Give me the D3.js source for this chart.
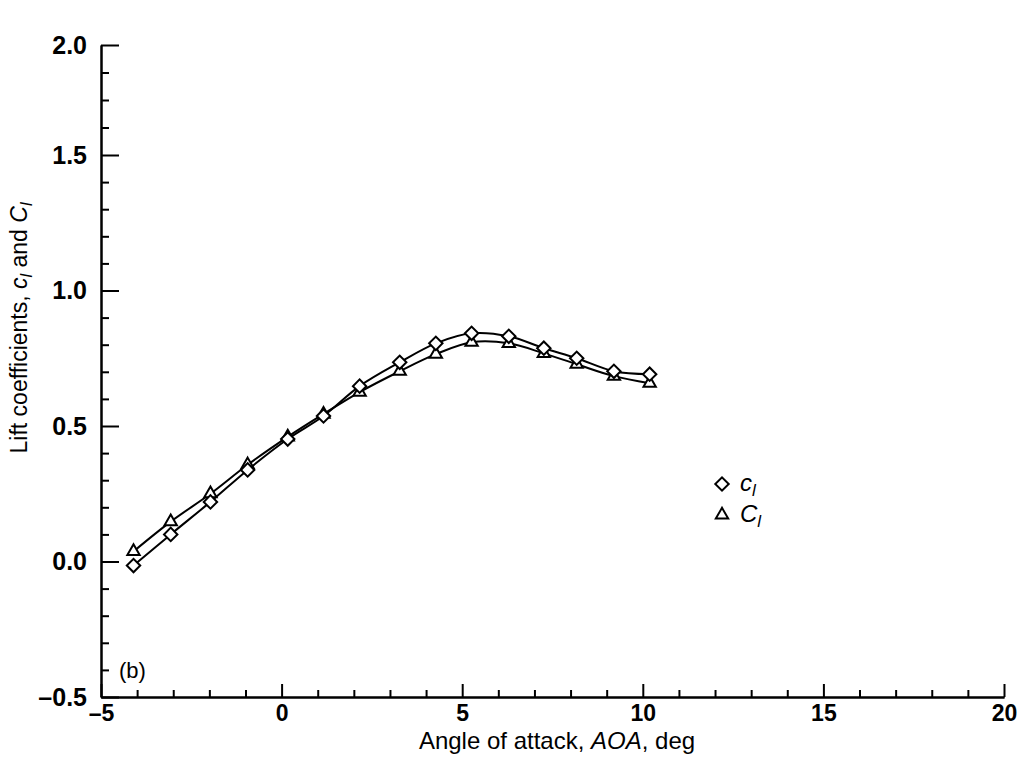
<!DOCTYPE html>
<html><head><meta charset="utf-8">
<script src="https://cdn.jsdelivr.net/npm/d3@7/dist/d3.min.js"></script>
<style>
body{margin:0;background:#fff;}
svg{display:block;}
text{font-family:"Liberation Sans",Arial,Helvetica,sans-serif;fill:#000;}
</style></head>
<body><svg id="c" width="1024" height="757"></svg>
<script>
const aoa = [-4.1, -3.07, -1.97, -0.94, 0.17, 1.16, 2.16, 3.27, 4.27, 5.26, 6.29, 7.26, 8.17, 9.2, 10.19];
const clSection = [-0.015, 0.10, 0.22, 0.338, 0.452, 0.537, 0.647, 0.735, 0.805, 0.842, 0.831, 0.787, 0.75, 0.702, 0.691];
const clWing = [0.037, 0.147, 0.25, 0.357, 0.46, 0.544, 0.625, 0.702, 0.765, 0.809, 0.805, 0.768, 0.728, 0.684, 0.658];
const xMajor = [-5, 0, 5, 10, 15, 20];
const xMinor = d3.range(-4, 20, 1).filter(v => v % 5 !== 0);
const yMajor = [-0.5, 0, 0.5, 1.0, 1.5, 2.0];
const yMinor = [-0.4,-0.3,-0.2,-0.1,0.1,0.2,0.3,0.4,0.6,0.7,0.8,0.9,1.1,1.2,1.3,1.4,1.625,1.75,1.875];

const svg = d3.select("#c");
const x = d3.scaleLinear().domain([-5, 20]).range([101, 1004]);
// scanned figure: top section of the y axis is compressed
const y = d3.scaleLinear().domain([-0.5, 1.5, 2.0]).range([697, 155, 45]);

// Axes
const gx = svg.append("g").attr("transform", `translate(0,${y(-0.5)})`);
gx.call(d3.axisBottom(x).tickValues(xMinor).tickSizeInner(-7).tickSizeOuter(0).tickFormat(""));
const gx2 = svg.append("g").attr("transform", `translate(0,${y(-0.5)})`);
gx2.call(d3.axisBottom(x).tickValues(xMajor).tickSizeInner(-13).tickSizeOuter(0).tickPadding(8)
  .tickFormat(d => d < 0 ? "\u2013" + Math.abs(d) : d));
gx2.selectAll("text").attr("font-size", 23).attr("font-weight", "bold");

const gy = svg.append("g").attr("transform", `translate(${x(-5)},0)`);
gy.call(d3.axisLeft(y).tickValues(yMinor).tickSizeInner(-8).tickSizeOuter(0).tickFormat(""));
const gy2 = svg.append("g").attr("transform", `translate(${x(-5)},0)`);
gy2.call(d3.axisLeft(y).tickValues(yMajor).tickSizeInner(-18).tickSizeOuter(0).tickPadding(14)
  .tickFormat(d => (d < 0 ? "\u2013" : "") + Math.abs(d).toFixed(1)));
gy2.selectAll("text").attr("font-size", 25).attr("font-weight", "bold");
svg.selectAll(".domain").attr("stroke", "#000").attr("stroke-width", 2);
svg.selectAll(".tick line").attr("stroke", "#000").attr("stroke-width", 2);

// Curves
const line = d3.line().curve(d3.curveCatmullRom.alpha(0.5));
const ptsS = aoa.map((a, i) => [x(a), y(clSection[i])]);
const ptsW = aoa.map((a, i) => [x(a), y(clWing[i])]);
svg.append("path").attr("d", line(ptsS)).attr("fill", "none").attr("stroke", "#000").attr("stroke-width", 2);
svg.append("path").attr("d", line(ptsW)).attr("fill", "none").attr("stroke", "#000").attr("stroke-width", 2);

const diamond = d3.symbol().type(d3.symbolSquare).size(90);
const tri = d3.symbol().type(d3.symbolTriangle).size(66);
svg.append("g").selectAll("path").data(ptsW).join("path")
  .attr("d", tri).attr("transform", d => `translate(${d[0]},${d[1]})`)
  .attr("fill", "#fff").attr("stroke", "#000").attr("stroke-width", 2);
svg.append("g").selectAll("path").data(ptsS).join("path")
  .attr("d", diamond).attr("transform", d => `translate(${d[0]},${d[1]}) rotate(45)`)
  .attr("fill", "#fff").attr("stroke", "#000").attr("stroke-width", 2);

// Titles
svg.append("text").attr("x", 557).attr("y", 749).attr("text-anchor", "middle").attr("font-size", 24)
  .html('Angle of attack, <tspan font-style="italic">AOA</tspan>, deg');
svg.append("text").attr("transform", "translate(27,328) rotate(-90)").attr("text-anchor", "middle").attr("font-size", 23)
  .html('Lift coefficients, <tspan font-style="italic">c</tspan><tspan font-style="italic" font-size="16" dy="5">l</tspan><tspan dy="-5"> and </tspan><tspan font-style="italic">C</tspan><tspan font-style="italic" font-size="16" dy="5">l</tspan>');

svg.append("text").attr("x", 119).attr("y", 678).attr("font-size", 22).text("(b)");

// Legend
const lg = svg.append("g");
lg.append("path").attr("d", diamond).attr("transform", `translate(722,484) rotate(45)`)
  .attr("fill", "#fff").attr("stroke", "#000").attr("stroke-width", 2);
lg.append("path").attr("d", tri).attr("transform", `translate(722,515)`)
  .attr("fill", "#fff").attr("stroke", "#000").attr("stroke-width", 2);
lg.append("text").attr("x", 740).attr("y", 491).attr("font-size", 24)
  .html('<tspan font-style="italic">c</tspan><tspan font-style="italic" font-size="17" dy="5">l</tspan>');
lg.append("text").attr("x", 740).attr("y", 522).attr("font-size", 24)
  .html('<tspan font-style="italic">C</tspan><tspan font-style="italic" font-size="17" dy="5">l</tspan>');
</script></body></html>
